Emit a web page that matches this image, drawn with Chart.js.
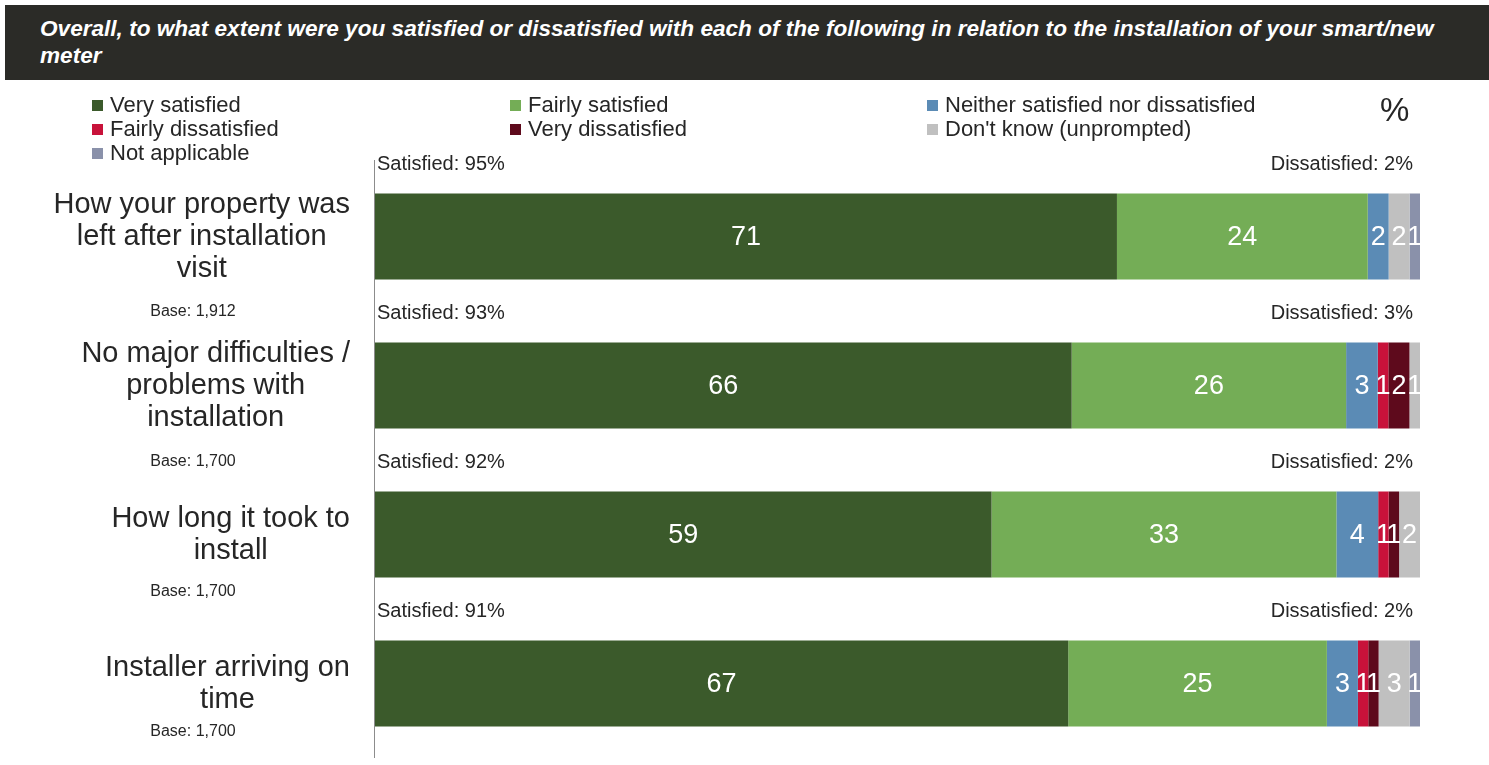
<!DOCTYPE html>
<html>
<head>
<meta charset="utf-8">
<script src="https://cdn.jsdelivr.net/npm/chart.js@4.4.0/dist/chart.umd.min.js"></script>
<style>
  body { margin: 0; background: #fff; font-family: "Liberation Sans", Arial, sans-serif; }
  #wrap { position: relative; width: 1489px; height: 765px; }
  #title {
    position: absolute; left: 5px; top: 5px; width: 1484px; height: 75px;
    background: #2b2b27; color: #fff; font-weight: bold; font-style: italic;
    font-size: 22.6px; line-height: 27px; box-sizing: border-box; padding: 10px 30px 0 35px;
  }
  canvas { position: absolute; left: 0; top: 0; }
</style>
</head>
<body>
<div id="wrap">
  <div id="title">Overall, to what extent were you satisfied or dissatisfied with each of the following in relation to the installation of your smart/new meter</div>
  <canvas id="chart" width="1489" height="765"></canvas>
</div>
<script>
const categories = [
    ['How your property was', 'left after installation', 'visit'],
    ['No major difficulties /', 'problems with', 'installation'],
    ['How long it took to', 'install'],
    ['Installer arriving on', 'time']
];
const bases = ['Base: 1,912', 'Base: 1,700', 'Base: 1,700', 'Base: 1,700'];
const satisfied = [95, 93, 92, 91];
const dissatisfied = [2, 3, 2, 2];

const seriesNames = ['Very satisfied', 'Fairly satisfied', 'Neither satisfied nor dissatisfied',
    'Fairly dissatisfied', 'Very dissatisfied', "Don't know (unprompted)", 'Not applicable'];
const verySatisfied = [71, 66, 59, 67];
const fairlySatisfied = [24, 26, 33, 25];
const neither = [2, 3, 4, 3];
const fairlyDissatisfied = [0, 1, 1, 1];
const veryDissatisfied = [0, 2, 1, 1];
const dontKnow = [2, 1, 2, 3];
const notApplicable = [1, 0, 0, 1];

const colors = ['#3b5a2b', '#74ad56', '#5b8bb5', '#c8123a', '#5e0a1c', '#c0c0c0', '#8a91aa'];
const baseOffset = [75, 76, 57, 48];

const raw = [verySatisfied, fairlySatisfied, neither, fairlyDissatisfied, veryDissatisfied, dontKnow, notApplicable];
// 100% stacked: each row scaled to its own total
const totals = categories.map((c, i) => raw.reduce((s, arr) => s + arr[i], 0));

const FONT = '"Liberation Sans", Arial, sans-serif';
const INK = '#262626';

const textPlugin = {
    id: 'texts',
    afterDatasetsDraw(chart) {
        const c = chart.ctx;
        const area = chart.chartArea;
        const yScale = chart.scales.y;
        c.save();

        // axis line
        c.strokeStyle = '#8c8c8c';
        c.lineWidth = 1;
        c.beginPath();
        c.moveTo(area.left - 0.5, area.top - 2);
        c.lineTo(area.left - 0.5, area.bottom);
        c.stroke();

        // segment values
        c.fillStyle = '#fff';
        c.font = '27px ' + FONT;
        c.textAlign = 'center';
        c.textBaseline = 'middle';
        raw.forEach((arr, di) => {
            const meta = chart.getDatasetMeta(di);
            meta.data.forEach((bar, i) => {
                if (!arr[i]) return;
                c.fillText(arr[i], (bar.base + bar.x) / 2, bar.y + 1);
            });
        });

        // category labels, satisfied / dissatisfied, bases
        categories.forEach((lines, i) => {
            const yc = yScale.getPixelForValue(i);
            const bar = chart.getDatasetMeta(0).data[i];
            const top = bar.y - bar.height / 2;

            c.fillStyle = INK;
            c.font = '29px ' + FONT;
            const w = Math.max(...lines.map(l => c.measureText(l).width));
            const cx = 350 - w / 2;
            const lh = 32;
            lines.forEach((l, k) => {
                c.textAlign = 'center';
                c.fillText(l, cx, yc + (k - (lines.length - 1) / 2) * lh);
            });

            c.font = '16px ' + FONT;
            c.textAlign = 'center';
            c.fillText(bases[i], 193, yc + baseOffset[i]);

            c.font = '20px ' + FONT;
            c.textAlign = 'left';
            c.fillText('Satisfied: ' + satisfied[i] + '%', area.left + 2, top - 29);
            c.textAlign = 'right';
            c.fillText('Dissatisfied: ' + dissatisfied[i] + '%', area.right - 7, top - 29);
        });

        // legend
        const colX = [92, 510, 927];
        const rowY = [105, 129, 153];
        c.font = '22px ' + FONT;
        c.textAlign = 'left';
        seriesNames.forEach((name, k) => {
            const x = colX[k % 3], y = rowY[Math.floor(k / 3)];
            c.fillStyle = colors[k];
            c.fillRect(x, y - 5, 11, 11);
            c.fillStyle = INK;
            c.fillText(name, x + 18, y + 1);
        });
        c.font = '33px ' + FONT;
        c.fillText('%', 1380, 112);

        c.restore();
    }
};

new Chart(document.getElementById('chart'), {
    type: 'bar',
    data: {
        labels: categories.map(l => l.join(' ')),
        datasets: raw.map((arr, k) => ({
            label: seriesNames[k],
            data: arr.map((v, i) => v / totals[i] * 100),
            backgroundColor: colors[k],
            borderWidth: 0,
            barPercentage: 0.577,
            categoryPercentage: 1
        }))
    },
    options: {
        indexAxis: 'y',
        responsive: false,
        animation: false,
        layout: { padding: { left: 375, right: 69, top: 162, bottom: 7 } },
        plugins: { legend: { display: false }, tooltip: { enabled: false } },
        scales: {
            x: { stacked: true, display: false, min: 0, max: 100 },
            y: { stacked: true, display: false }
        }
    },
    plugins: [textPlugin]
});
</script>
</body>
</html>
